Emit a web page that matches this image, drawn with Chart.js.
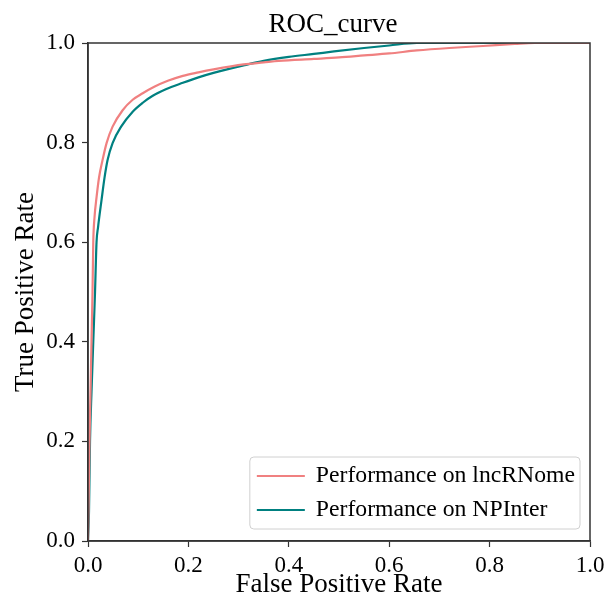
<!DOCTYPE html>
<html>
<head>
<meta charset="utf-8">
<script src="https://cdn.jsdelivr.net/npm/chart.js@4/dist/chart.umd.min.js"></script>
<style>
  html, body { margin: 0; padding: 0; background: #fff; }
  #wrap { width: 606px; height: 598px; }
</style>
</head>
<body>
<div id="wrap"><canvas id="c" width="606" height="598"></canvas></div>
<script>
const chartTitle = "ROC_curve";
const xTitle = "False Positive Rate";
const yTitle = "True Positive Rate";
const tickValues = [0.0, 0.2, 0.4, 0.6, 0.8, 1.0];
const seriesNames = ["Performance on lncRNome", "Performance on NPInter"];

const fprLnc = [0, 0.001, 0.003, 0.005, 0.007, 0.009, 0.0105, 0.013, 0.017, 0.022, 0.029, 0.037, 0.049, 0.069, 0.089, 0.109, 0.132, 0.159, 0.189, 0.22, 0.25, 0.31, 0.35, 0.38, 0.45, 0.5, 0.55, 0.6, 0.655, 0.72, 0.787, 0.85, 0.89, 1.0];
const tprLnc = [0, 0.06, 0.2, 0.3, 0.4, 0.5, 0.6, 0.65, 0.69, 0.73, 0.765, 0.799, 0.832, 0.865, 0.886, 0.899, 0.912, 0.924, 0.934, 0.941, 0.947, 0.957, 0.961, 0.964, 0.968, 0.971, 0.975, 0.979, 0.985, 0.990, 0.994, 0.998, 1.0, 1.0];

const fprNp = [0, 0.002, 0.004, 0.007, 0.0105, 0.014, 0.017, 0.02, 0.027, 0.033, 0.039, 0.049, 0.066, 0.089, 0.109, 0.129, 0.155, 0.189, 0.22, 0.25, 0.31, 0.35, 0.4, 0.45, 0.49, 0.55, 0.6, 0.655, 1.0];
const tprNp = [0, 0.06, 0.2, 0.3, 0.4, 0.5, 0.6, 0.63, 0.685, 0.73, 0.765, 0.799, 0.832, 0.862, 0.880, 0.894, 0.907, 0.920, 0.931, 0.940, 0.955, 0.964, 0.972, 0.978, 0.983, 0.990, 0.995, 1.0, 1.0];

const colors = ["#F08080", "#008080"];
const FONT = "'Liberation Serif', 'Times New Roman', serif";

function pts(xs, ys) { return xs.map((x, i) => ({ x: x, y: ys[i] })); }

const framePlugin = {
  id: 'frame',
  afterDraw(chart) {
    const ctx = chart.ctx, a = chart.chartArea;
    ctx.save();
    ctx.strokeStyle = '#333';
    ctx.lineWidth = 1.5;
    ctx.strokeRect(a.left, a.top, a.right - a.left, a.bottom - a.top);
    ctx.fillStyle = '#000';
    ctx.font = "27px " + FONT;
    ctx.textAlign = 'center';
    ctx.textBaseline = 'alphabetic';
    ctx.fillText(chartTitle, (a.left + a.right) / 2 - 6, a.top - 11);
    ctx.restore();
  }
};

const legendPlugin = {
  id: 'innerLegend',
  afterDraw(chart) {
    const ctx = chart.ctx, a = chart.chartArea;
    ctx.save();
    ctx.font = "23.7px " + FONT;
    const dsets = chart.data.datasets;
    let maxW = 0;
    dsets.forEach(d => { maxW = Math.max(maxW, ctx.measureText(d.label).width); });
    const rowH = 34, lineLen = 48, gap = 11, padX = 7;
    const boxW = padX + lineLen + gap + maxW + 5;
    const boxH = rowH * dsets.length + 4;
    const right = a.right - 10, bottom = a.bottom - 12;
    const left = right - boxW, top = bottom - boxH;
    const r = 4;
    ctx.beginPath();
    ctx.moveTo(left + r, top);
    ctx.lineTo(right - r, top);
    ctx.quadraticCurveTo(right, top, right, top + r);
    ctx.lineTo(right, bottom - r);
    ctx.quadraticCurveTo(right, bottom, right - r, bottom);
    ctx.lineTo(left + r, bottom);
    ctx.quadraticCurveTo(left, bottom, left, bottom - r);
    ctx.lineTo(left, top + r);
    ctx.quadraticCurveTo(left, top, left + r, top);
    ctx.closePath();
    ctx.fillStyle = 'rgba(255,255,255,0.8)';
    ctx.fill();
    ctx.strokeStyle = '#d0d0d0';
    ctx.lineWidth = 1;
    ctx.stroke();
    dsets.forEach((d, i) => {
      const y = top + 2 + rowH * i + rowH / 2;
      ctx.strokeStyle = d.borderColor;
      ctx.lineWidth = 2;
      ctx.beginPath();
      ctx.moveTo(left + padX, y);
      ctx.lineTo(left + padX + lineLen, y);
      ctx.stroke();
      ctx.fillStyle = '#000';
      ctx.textBaseline = 'middle';
      ctx.textAlign = 'left';
      ctx.fillText(d.label, left + padX + lineLen + gap, y);
    });
    ctx.restore();
  }
};

const axisCommon = {
  type: 'linear',
  min: 0,
  max: 1,
  grid: {
    display: true,
    drawOnChartArea: false,
    drawTicks: true,
    tickLength: 6,
    tickColor: '#333',
    tickWidth: 1.2
  },
  border: { display: true, color: '#333', width: 1.5 },
  afterBuildTicks(scale) { scale.ticks = tickValues.map(v => ({ value: v })); }
};

new Chart(document.getElementById('c'), {
  type: 'scatter',
  data: {
    datasets: [
      { label: seriesNames[0], data: pts(fprLnc, tprLnc), borderColor: colors[0], backgroundColor: colors[0] },
      { label: seriesNames[1], data: pts(fprNp, tprNp), borderColor: colors[1], backgroundColor: colors[1] }
    ].map(d => Object.assign(d, { showLine: true, pointRadius: 0, borderWidth: 2.2, cubicInterpolationMode: 'monotone', fill: false }))
  },
  options: {
    responsive: false,
    animation: false,
    devicePixelRatio: 1,
    layout: { padding: { left: 0, right: 16, top: 43, bottom: 0 } },
    plugins: {
      legend: { display: false },
      tooltip: { enabled: false },
      title: { display: false }
    },
    scales: {
      x: Object.assign({}, axisCommon, {
        position: 'bottom',
        ticks: {
          color: '#000', padding: 5, maxRotation: 0,
          font: { family: FONT, size: 23 },
          callback: v => Number(v).toFixed(1)
        },
        title: {
          display: true, text: xTitle, color: '#000',
          font: { family: FONT, size: 27, lineHeight: 1.0 },
          padding: { top: 0, bottom: 0 }
        },
        afterFit(scale) { scale.height = 57; scale.paddingLeft = 0; scale.paddingRight = 0; }
      }),
      y: Object.assign({}, axisCommon, {
        position: 'left',
        ticks: {
          color: '#000', padding: 7,
          font: { family: FONT, size: 23 },
          callback: v => Number(v).toFixed(1)
        },
        title: {
          display: true, text: yTitle, color: '#000',
          font: { family: FONT, size: 27, lineHeight: 1.2 },
          padding: { top: 10, bottom: 0 }
        },
        afterFit(scale) { scale.width = 88; scale.paddingTop = 0; scale.paddingBottom = 0; }
      })
    }
  },
  plugins: [framePlugin, legendPlugin]
});
</script>
</body>
</html>
